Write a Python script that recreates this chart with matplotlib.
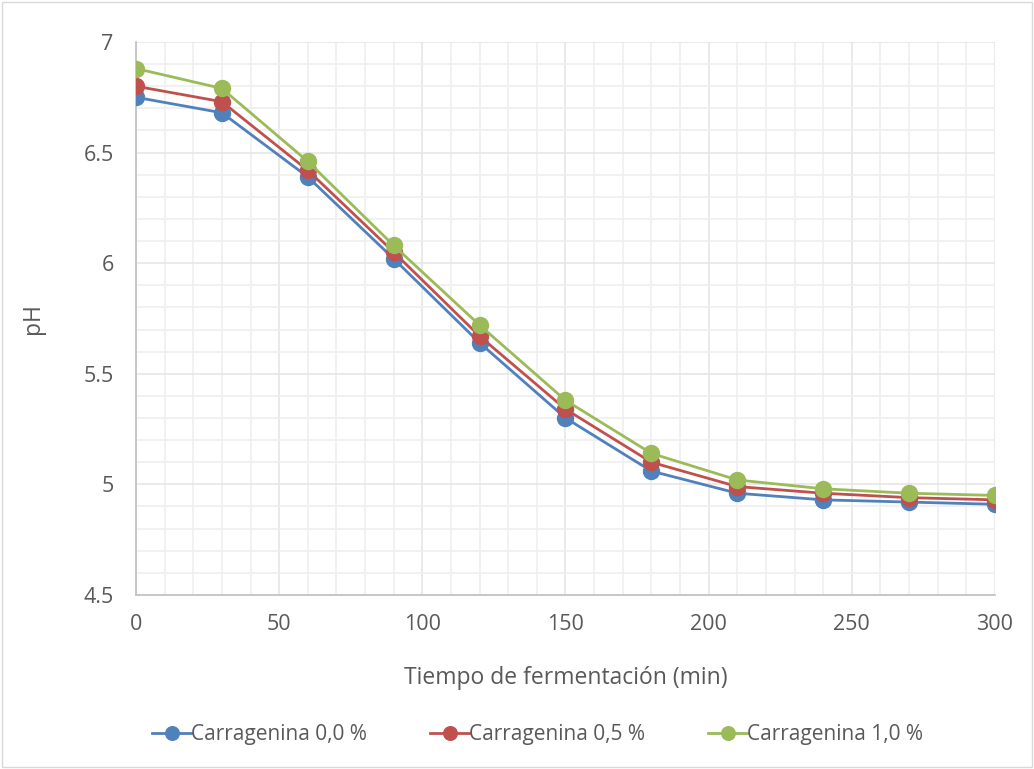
import matplotlib
matplotlib.use("Agg")
import matplotlib.pyplot as plt
from matplotlib.ticker import MultipleLocator
from matplotlib.patches import Rectangle

tiempo = [0, 30, 60, 90, 120, 150, 180, 210, 240, 270, 300]
ph_00 = [6.75, 6.68, 6.39, 6.02, 5.64, 5.30, 5.06, 4.96, 4.93, 4.92, 4.91]
ph_05 = [6.80, 6.73, 6.42, 6.05, 5.67, 5.34, 5.10, 4.99, 4.96, 4.94, 4.93]
ph_10 = [6.88, 6.79, 6.46, 6.08, 5.72, 5.38, 5.14, 5.02, 4.98, 4.96, 4.95]
labels = ["Carragenina 0,0 %", "Carragenina 0,5 %", "Carragenina 1,0 %"]
colors = ["#4f81bd", "#c0504d", "#9bbb59"]

plt.rcParams['font.family'] = ['Open Sans', 'DejaVu Sans']
txt = "#595959"

fig = plt.figure(figsize=(10.34, 7.69), dpi=100)
ax = fig.add_axes([0.1315, 0.2263, 0.9623 - 0.1315, 0.9454 - 0.2263])

for ys, lab, c in zip([ph_00, ph_05, ph_10], labels, colors):
    ax.plot(tiempo, ys, color=c, lw=2, marker='o', markersize=11.5, label=lab, zorder=3)

ax.set_xlim(0, 300)
ax.set_ylim(4.5, 7)
ax.xaxis.set_major_locator(MultipleLocator(50))
ax.xaxis.set_minor_locator(MultipleLocator(10))
ax.yaxis.set_major_locator(MultipleLocator(0.5))
ax.yaxis.set_minor_locator(MultipleLocator(0.1))
ax.set_yticks([4.5, 5, 5.5, 6, 6.5, 7])
ax.set_yticklabels(["4.5", "5", "5.5", "6", "6.5", "7"])
ax.grid(which='major', color='#e6e6e6', lw=1.2, zorder=0)
ax.grid(which='minor', color='#efefef', lw=1.2, zorder=0)
ax.set_axisbelow(True)
for s in ['top', 'right']:
    ax.spines[s].set_visible(False)
for s in ['left', 'bottom']:
    ax.spines[s].set_color('#bfbfbf')
    ax.spines[s].set_linewidth(1.2)
ax.tick_params(which='both', length=0, labelsize=15.5, labelcolor=txt)
ax.tick_params(axis='x', pad=14)
ax.tick_params(axis='y', pad=16)
ax.set_xlabel("Tiempo de fermentación (min)", fontsize=16.5, color=txt, labelpad=22)
ax.set_ylabel("pH", fontsize=16.5, color=txt, labelpad=28)

leg = fig.legend(loc='center', bbox_to_anchor=(0.52, 0.045), ncol=3, frameon=False,
                 fontsize=15, handlelength=1.9, columnspacing=3.0, handletextpad=0.0,
                 markerscale=0.85)
for t in leg.get_texts():
    t.set_color(txt)

fig.patches.append(Rectangle((0.002, 0.002), 0.996, 0.996, transform=fig.transFigure,
                             fill=False, edgecolor='#d9d9d9', lw=1))
fig.savefig("out.png", dpi=100)
